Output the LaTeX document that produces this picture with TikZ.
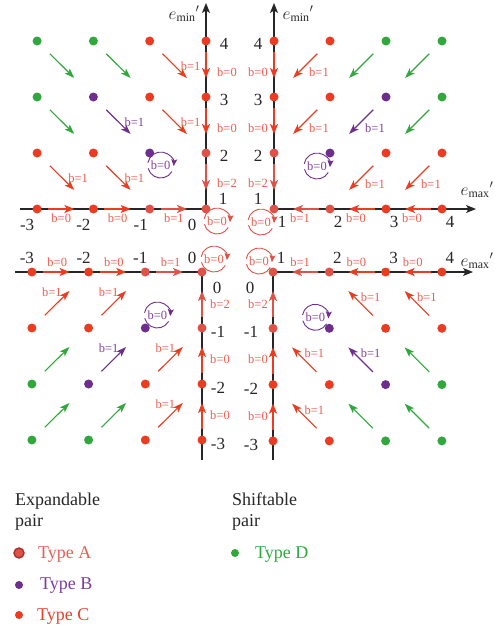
\documentclass[tikz,border=0pt]{standalone}
\usepackage{fontspec}
\setmainfont{Liberation Serif}
\usetikzlibrary{arrows.meta,calc}
\pgfdeclarelayer{bg}
\pgfsetlayers{bg,main}
\definecolor{cA}{RGB}{222,82,72}
\definecolor{cC}{RGB}{234,60,32}
\definecolor{cB}{RGB}{110,46,142}
\definecolor{cD}{RGB}{48,168,60}
\definecolor{lblR}{RGB}{238,92,78}
\definecolor{lblB}{RGB}{128,64,160}
\definecolor{axc}{RGB}{38,38,38}
\definecolor{ringA}{RGB}{165,50,40}
\definecolor{txtA}{RGB}{228,96,88}
\definecolor{txtC}{RGB}{232,66,44}
\definecolor{txtB}{RGB}{122,60,158}
\definecolor{txtD}{RGB}{48,168,60}
\tikzset{
 dot/.style={circle,inner sep=0pt,minimum size=9pt},
 axisline/.style={draw=axc,line width=1.1pt},
 axisarrow/.style={axisline,-{Stealth[length=10pt,width=8pt,inset=2.5pt]}},
 axstep/.style={line width=1.6pt,-{Stealth[length=10pt,width=8pt,inset=2.5pt]},shorten <=11pt,shorten >=19pt},
 diagstep/.style={line width=1.1pt,-{Stealth[length=10pt,width=7pt,inset=2.5pt]},shorten <=18pt,shorten >=27pt},
 loopline/.style={line width=0.9pt},
 looparrow/.style={line width=0.9pt,-{Stealth[length=7pt,width=6pt,inset=1.5pt]}},
 blab/.style={font=\fontsize{12.5}{13}\selectfont,inner sep=0pt},
 num/.style={font=\fontsize{17}{18}\selectfont,inner sep=0pt,text=axc},
 elab/.style={font=\fontsize{17}{18}\selectfont,inner sep=0pt,text=axc},
 legtext/.style={font=\fontsize{18}{19}\selectfont,inner sep=0pt,anchor=base west},
}
\begin{document}
\begin{tikzpicture}[x=1pt,y=-1pt]
\useasboundingbox (0,0) rectangle (495,629);
% ---- dots ----
\foreach \q/\ox/\oy/\dx/\dy in {tl/206/209/-56.3/-56,tr/274/209/56/-56,bl/202/272/-56.7/56,br/273/272/56.3/56.3}{
 \foreach \a/\b/\t in {0/0/A,1/0/A,2/0/C,3/0/C,0/1/A,1/1/B,2/1/C,3/1/C,0/2/C,1/2/C,2/2/B,3/2/D,0/3/C,1/3/C,2/3/D,3/3/D}{
  \node[dot,fill=c\t] (\q-\a-\b) at ({\ox+\dx*\a},{\oy+\dy*\b}) {};
 }
}
% ---- axes ----
\coordinate (tl-xend) at (20,209);
\coordinate (tl-ytip) at (206,3);
\coordinate (tr-xtip) at (476,209);
\coordinate (tr-ytip) at (274,3);
\coordinate (bl-xend) at (15,272);
\coordinate (bl-yend) at (202,460);
\coordinate (br-xtip) at (473,272);
\coordinate (br-yend) at (273,460);
\begin{pgfonlayer}{bg}
\draw[axisline] (tl-xend) -- (tl-0-0.center);
\draw[axisarrow] (tl-0-0.center) -- (tl-ytip);
\draw[axisarrow] (tr-0-0.center) -- (tr-xtip);
\draw[axisarrow] (tr-0-0.center) -- (tr-ytip);
\draw[axisline] (bl-xend) -- (bl-0-0.center) -- (bl-yend);
\draw[axisarrow] (br-0-0.center) -- (br-xtip);
\draw[axisline] (br-0-0.center) -- (br-yend);
\end{pgfonlayer}
\node[elab] (tl-emin) at (184,14) {$e_{\mathrm{min}}{}'$};
\node[elab] (tr-emin) at (298,14) {$e_{\mathrm{min}}{}'$};
\node[elab] (tr-emax) at (477,190) {$e_{\mathrm{max}}{}'$};
\node[elab] (br-emax) at (477,261) {$e_{\mathrm{max}}{}'$};
% ---- steps along axes ----
\foreach \q/\vx/\vy/\hx/\hy in {tl/21/2/-4/9,tr/-16/2/-2/9,bl/18/4/-3/-10,br/-15/4/-1/-10}{
 \begin{pgfonlayer}{bg}
  \draw[axstep,cC] (\q-0-3.center) -- (\q-0-2.center);
  \draw[axstep,cC] (\q-0-2.center) -- (\q-0-1.center);
  \draw[axstep,cA] (\q-0-1.center) -- (\q-0-0.center);
  \draw[axstep,cC] (\q-3-0.center) -- (\q-2-0.center);
  \draw[axstep,cC] (\q-2-0.center) -- (\q-1-0.center);
  \draw[axstep,cA] (\q-1-0.center) -- (\q-0-0.center);
 \end{pgfonlayer}
 \node[blab,text=lblR] (\q-v3) at ($(\q-0-3.center)!0.5!(\q-0-2.center)+(\vx,3)$) {b=0};
 \node[blab,text=lblR] (\q-v2) at ($(\q-0-2.center)!0.5!(\q-0-1.center)+(\vx,3)$) {b=0};
 \node[blab,text=lblR] (\q-v1) at ($(\q-0-1.center)!0.5!(\q-0-0.center)+(\vx,\vy)$) {b=2};
 \node[blab,text=lblR] (\q-h3) at ($(\q-3-0.center)!0.5!(\q-2-0.center)+(\hx,\hy)$) {b=0};
 \node[blab,text=lblR] (\q-h2) at ($(\q-2-0.center)!0.5!(\q-1-0.center)+(\hx,\hy)$) {b=0};
 \node[blab,text=lblR] (\q-h1) at ($(\q-1-0.center)!0.5!(\q-0-0.center)+(\hx,\hy)$) {b=1};
}
% ---- diagonal steps ----
\foreach \q/\lx/\ly in {tl/41/25,tr/-11/31,bl/20/-36,br/-15/-31}{
 \foreach \a/\b/\t [evaluate=\a as \pa using int(\a-1), evaluate=\b as \pb using int(\b-1)] in {1/2/C,1/3/C,2/1/C,3/1/C,2/2/B,2/3/D,3/2/D,3/3/D}{
  \begin{pgfonlayer}{bg}
   \draw[diagstep,c\t] (\q-\a-\b.center) -- (\q-\pa-\pb.center);
  \end{pgfonlayer}
 }
 \foreach \a/\b/\t in {1/2/R,1/3/R,2/1/R,3/1/R,2/2/B}{
  \node[blab,text=lbl\t] (\q-d-\a-\b) at ($(\q-\a-\b.center)+(\lx,\ly)$) {b=1};
 }
}
% ---- self loops ----
\foreach \q/\cx/\cy in {tl/11/12,tr/-13/13,bl/12/-13,br/-14/-11}{
 \coordinate (\q-lpB) at ($(\q-1-1.center)+(\cx,\cy)$);
 \coordinate (\q-lpA) at ($(\q-0-0.center)+(\cx,\cy)$);
 \begin{pgfonlayer}{bg}
  \draw[looparrow,cB] ([shift={(-170:13)}]\q-lpB) arc[start angle=-170,end angle=5,radius=13];
  \draw[loopline,cB] ([shift={(30:13)}]\q-lpB) arc[start angle=30,end angle=165,radius=13];
  \draw[looparrow,cA] ([shift={(-170:13)}]\q-lpA) arc[start angle=-170,end angle=5,radius=13];
  \draw[loopline,cA] ([shift={(30:13)}]\q-lpA) arc[start angle=30,end angle=165,radius=13];
 \end{pgfonlayer}
 \node[blab,text=lblB] (\q-lbB) at (\q-lpB) {b=0};
 \node[blab,text=lblR] (\q-lbA) at (\q-lpA) {b=0};
}
% ---- numbers ----
\foreach \b/\v in {1/2,2/3,3/4}{
 \node[num] (tl-nv\b) at ($(tl-0-\b.center)+(18,3)$) {\v};
 \node[num] (tr-nv\b) at ($(tr-0-\b.center)+(-16,3)$) {\v};
}
\node[num] (tl-nv0) at ($(tl-0-0.center)+(17,-10)$) {1};
\node[num] (tr-nv0) at ($(tr-0-0.center)+(-16,-10)$) {1};
\foreach \a/\v/\o in {0/0/-14,1/-1/-9,2/-2/-10,3/-3/-10}{
 \node[num] (tl-nh\a) at ($(tl-\a-0.center)+(\o,16)$) {\v};
}
\foreach \a/\v in {0/1,1/2,2/3,3/4}{
 \node[num] (tr-nh\a) at ($(tr-\a-0.center)+(8,13)$) {\v};
 \node[num] (br-nh\a) at ($(br-\a-0.center)+(8,-14)$) {\v};
}
\foreach \a/\v/\o in {0/0/-10,1/-1/-5,2/-2/-5,3/-3/-5}{
 \node[num] (bl-nh\a) at ($(bl-\a-0.center)+(\o,-14)$) {\v};
}
\foreach \b/\v in {1/-1,2/-2,3/-3}{
 \node[num] (bl-nv\b) at ($(bl-0-\b.center)+(16,4)$) {\v};
 \node[num] (br-nv\b) at ($(br-0-\b.center)+(-22,4)$) {\v};
}
\node[num] (bl-nv0) at ($(bl-0-0.center)+(15,16)$) {0};
\node[num] (br-nv0) at ($(br-0-0.center)+(-23,16)$) {0};
% ---- legend ----
\node[legtext,text=axc] (leg-exp) at (15,505) {Expandable};
\node[legtext,text=axc] (leg-pair1) at (15,526) {pair};
\node[legtext,text=axc] (leg-shift) at (232,505) {Shiftable};
\node[legtext,text=axc] (leg-pair2) at (232,526) {pair};
\node[dot,fill=cA,draw=ringA,line width=1.4pt,minimum size=10pt] (leg-a) at (19,553) {};
\node[legtext,text=txtA] (leg-ta) at (38,558) {Type A};
\node[dot,fill=cB,minimum size=8pt] (leg-b) at (19,585) {};
\node[legtext,text=txtB] (leg-tb) at (40,589) {Type B};
\node[dot,fill=cC,minimum size=8pt] (leg-c) at (19,615) {};
\node[legtext,text=txtC] (leg-tc) at (37,620) {Type C};
\node[dot,fill=cD,minimum size=8pt] (leg-d) at (235,553) {};
\node[legtext,text=txtD] (leg-td) at (255,558) {Type D};
\end{tikzpicture}
\end{document}
